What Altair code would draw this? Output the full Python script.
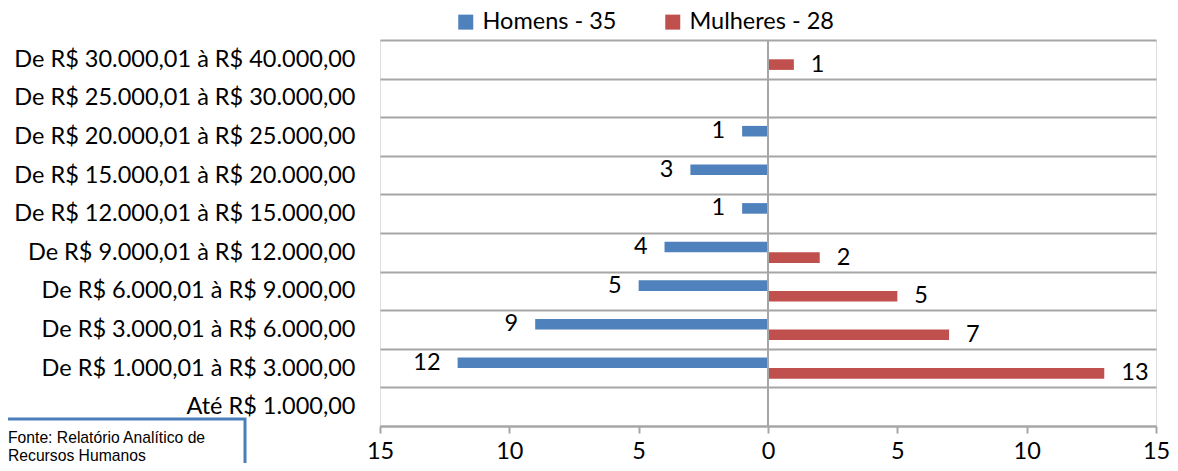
import altair as alt
import pandas as pd

categories = [
    "De R$ 30.000,01 à R$ 40.000,00",
    "De R$ 25.000,01 à R$ 30.000,00",
    "De R$ 20.000,01 à R$ 25.000,00",
    "De R$ 15.000,01 à R$ 20.000,00",
    "De R$ 12.000,01 à R$ 15.000,00",
    "De R$ 9.000,01 à R$ 12.000,00",
    "De R$ 6.000,01 à R$ 9.000,00",
    "De R$ 3.000,01 à R$ 6.000,00",
    "De R$ 1.000,01 à R$ 3.000,00",
    "Até R$ 1.000,00",
]
homens = [0, 0, 1, 3, 1, 4, 5, 9, 12, 0]
mulheres = [1, 0, 0, 0, 0, 2, 5, 7, 13, 0]
series_names = ["Homens - 35", "Mulheres - 28"]
series_colors = ["#4F81BD", "#C0504D"]
x_ticks = [-15, -10, -5, 0, 5, 10, 15]
footnote = "Fonte: Relatório Analítico de\nRecursos Humanos\nData Base: 31/10/2013"

rows = []
for c, h, m in zip(categories, homens, mulheres):
    rows.append({"cat": c, "series": series_names[0], "value": -h, "label": h})
    rows.append({"cat": c, "series": series_names[1], "value": m, "label": m})
df = pd.DataFrame(rows)

FONT = "Lato"
FS = 23.5
GRID = "#a6a6a6"

y_enc = alt.Y(
    "cat:N",
    sort=categories,
    scale=alt.Scale(paddingInner=0, paddingOuter=0),
    axis=alt.Axis(
        title=None,
        ticks=False,
        domain=False,
        grid=True,
        tickBand="extent",
        gridColor=GRID,
        gridWidth=2,
        labelFont=FONT,
        labelFontSize=FS,
        labelColor="#000000",
        labelPadding=25,
        labelLimit=500,
    ),
)
yoff_enc = alt.YOffset(
    "series:N",
    sort=series_names,
    scale=alt.Scale(domain=series_names, paddingInner=0, paddingOuter=0.82),
)
x_enc = alt.X(
    "value:Q",
    scale=alt.Scale(domain=[-15, 15], nice=False, zero=True),
    stack=None,
    axis=alt.Axis(
        title=None,
        values=x_ticks,
        labelExpr="abs(datum.value)",
        grid=False,
        domainColor=GRID,
        domainWidth=2,
        tickColor=GRID,
        tickWidth=2,
        tickSize=7,
        labelFont=FONT,
        labelFontSize=FS,
        labelColor="#000000",
        labelPadding=6,
        labelFlush=False,
        labelOverlap=False,
    ),
)

base = alt.Chart(df)

bars = base.mark_bar().encode(
    x=x_enc,
    y=y_enc,
    yOffset=yoff_enc,
    color=alt.Color(
        "series:N",
        scale=alt.Scale(domain=series_names, range=series_colors),
        legend=alt.Legend(
            title=None,
            orient="none",
            direction="horizontal",
            legendX=74,
            legendY=-30,
            symbolType="square",
            symbolSize=225,
            symbolStrokeWidth=0,
            labelFont=FONT,
            labelFontSize=FS,
            labelColor="#000000",
            labelOffset=5,
            labelLimit=300,
            columnPadding=44,
            padding=0,
        ),
    ),
)

zero_rule = alt.Chart(pd.DataFrame({"z": [0]})).mark_rule(
    color=GRID, strokeWidth=2
).encode(x=alt.X("z:Q"))

lab_h = base.transform_filter(
    (alt.datum.series == series_names[0]) & (alt.datum.label != 0)
).mark_text(align="right", baseline="middle", dx=-17, font=FONT, fontSize=FS, color="#000000").encode(
    x="value:Q", y=alt.Y("cat:N", sort=categories), yOffset=yoff_enc, text="label:Q"
)
lab_m = base.transform_filter(
    (alt.datum.series == series_names[1]) & (alt.datum.label != 0)
).mark_text(align="left", baseline="middle", dx=17, font=FONT, fontSize=FS, color="#000000").encode(
    x="value:Q", y=alt.Y("cat:N", sort=categories), yOffset=yoff_enc, text="label:Q"
)

note_df = pd.DataFrame({"t": [footnote]})
note_box = alt.Chart(note_df).mark_rect(
    fill="#ffffff", stroke="#4A7EBB", strokeWidth=3
).encode(
    x=alt.value(-420), x2=alt.value(-135), y=alt.value(379), y2=alt.value(520)
)
note_text = alt.Chart(note_df).mark_text(
    align="left", baseline="alphabetic", font="Liberation Sans", fontSize=15.7,
    lineBreak="\n", lineHeight=17.7, color="#000000"
).encode(x=alt.value(-372), y=alt.value(403), text="t:N")

chart = alt.layer(bars, zero_rule, lab_h, lab_m, note_box, note_text).properties(
    width=776,
    height=386,
    padding={"left": 372, "top": 32, "right": 14, "bottom": 37},
    autosize=alt.AutoSizeParams(type="none"),
).configure_view(strokeWidth=0).configure(background="#ffffff")

chart.save("out.html", embed_options={"renderer": "svg", "actions": False})
